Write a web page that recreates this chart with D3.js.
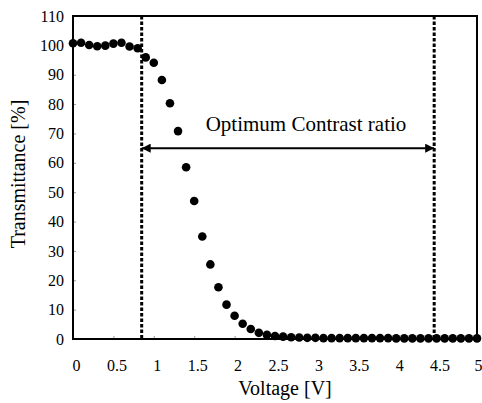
<!DOCTYPE html>
<html>
<head>
<meta charset="utf-8">
<script src="https://cdn.jsdelivr.net/npm/d3@7"></script>
<style>
  body { margin: 0; background: #fff; }
  text { font-family: "Liberation Serif", "DejaVu Serif", serif; fill: #000; }
</style>
</head>
<body>
<div id="chart"></div>
<script>
// measured points, 0.1 V steps
var voltage = [0, 0.1, 0.2, 0.3, 0.4, 0.5, 0.6, 0.7, 0.8, 0.9,
  1.0, 1.1, 1.2, 1.3, 1.4, 1.5, 1.6, 1.7, 1.8, 1.9,
  2.0, 2.1, 2.2, 2.3, 2.4, 2.5, 2.6, 2.7, 2.8, 2.9,
  3.0, 3.1, 3.2, 3.3, 3.4, 3.5, 3.6, 3.7, 3.8, 3.9,
  4.0, 4.1, 4.2, 4.3, 4.4, 4.5, 4.6, 4.7, 4.8, 4.9, 5.0];
var transmittance = [100.7, 100.9, 100.1, 99.7, 99.9, 100.6, 100.9, 99.6, 99.0, 95.9,
  94.1, 88.2, 80.3, 70.8, 58.5, 47.0, 34.9, 25.4, 17.6, 11.7,
  7.9, 5.2, 3.4, 2.1, 1.4, 1.0, 0.8, 0.6, 0.5, 0.4,
  0.4, 0.3, 0.3, 0.3, 0.3, 0.3, 0.3, 0.3, 0.3, 0.3,
  0.2, 0.2, 0.2, 0.2, 0.2, 0.2, 0.2, 0.2, 0.2, 0.2, 0.2];
var xTicks = [0, 0.5, 1, 1.5, 2, 2.5, 3, 3.5, 4, 4.5, 5];
var yTicks = [0, 10, 20, 30, 40, 50, 60, 70, 80, 90, 100, 110];
var rangeBounds = [0.85, 4.47];   // dotted lines (V)
var arrowLevel = 65;              // arrow height (%)
var rangeLabel = "Optimum Contrast ratio";

var width = 482, height = 403;
var svg = d3.select("#chart").append("svg").attr("width", width).attr("height", height);

var x = d3.scaleLinear().domain([0, 5]).range([73, 477]);
var y = d3.scaleLinear().domain([0, 110]).range([339, 16]);

// axes (tiny inside ticks, labels outside)
var xAxis = svg.append("g").attr("transform", "translate(0," + y(0) + ")")
  .call(d3.axisBottom(x).tickValues(xTicks).tickSizeInner(-3).tickSizeOuter(0).tickPadding(21)
    .tickFormat(function(d){ return d3.format("")(d); }));
xAxis.selectAll("text").attr("font-size", 16).attr("dx", 3);
// last label sits on the window edge, keep it inside
xAxis.selectAll(".tick").filter(function(d){ return d === 5; }).select("text")
  .attr("text-anchor", "end").attr("dx", 5);
var yAxis = svg.append("g").attr("transform", "translate(" + x(0) + ",0)")
  .call(d3.axisLeft(y).tickValues(yTicks).tickSizeInner(-3).tickSizeOuter(0).tickPadding(9));
yAxis.selectAll("text").attr("font-size", 16);
svg.selectAll(".domain").remove();
svg.selectAll(".tick line").attr("stroke", "#999");

// frame
svg.append("rect")
  .attr("x", x(0)).attr("y", y(110))
  .attr("width", x(5) - x(0)).attr("height", y(0) - y(110))
  .attr("fill", "none").attr("stroke", "#000").attr("stroke-width", 2);

// dotted boundaries
svg.selectAll(".bound").data(rangeBounds).enter().append("line")
  .attr("class", "bound")
  .attr("x1", function(d){ return x(d); }).attr("x2", function(d){ return x(d); })
  .attr("y1", y(110)).attr("y2", y(0))
  .attr("stroke", "#000").attr("stroke-width", 3).attr("stroke-dasharray", "3.5,2");

// double arrow
var defs = svg.append("defs");
defs.append("marker").attr("id", "head").attr("viewBox", "0 0 10 10")
  .attr("refX", 10).attr("refY", 5).attr("markerWidth", 17).attr("markerHeight", 9)
  .attr("markerUnits", "userSpaceOnUse").attr("orient", "auto-start-reverse")
  .append("path").attr("d", "M0,0 L10,5 L0,10 z").attr("fill", "#000");
svg.append("line")
  .attr("x1", x(rangeBounds[0])).attr("x2", x(rangeBounds[1]))
  .attr("y1", y(arrowLevel)).attr("y2", y(arrowLevel))
  .attr("stroke", "#000").attr("stroke-width", 2)
  .attr("marker-start", "url(#head)").attr("marker-end", "url(#head)");
svg.append("text")
  .attr("x", 306).attr("y", y(arrowLevel) - 17)
  .attr("text-anchor", "middle").attr("font-size", 21)
  .text(rangeLabel);

// points
svg.selectAll(".pt").data(voltage).enter().append("circle")
  .attr("class", "pt")
  .attr("cx", function(d){ return x(d); })
  .attr("cy", function(d, i){ return y(transmittance[i]); })
  .attr("r", 4.3).attr("fill", "#000");

// axis titles
svg.append("text").attr("x", 285).attr("y", 395)
  .attr("text-anchor", "middle").attr("font-size", 20).text("Voltage [V]");
svg.append("text").attr("transform", "translate(25,174) rotate(-90)")
  .attr("text-anchor", "middle").attr("font-size", 20).text("Transmittance [%]");
</script>
</body>
</html>
